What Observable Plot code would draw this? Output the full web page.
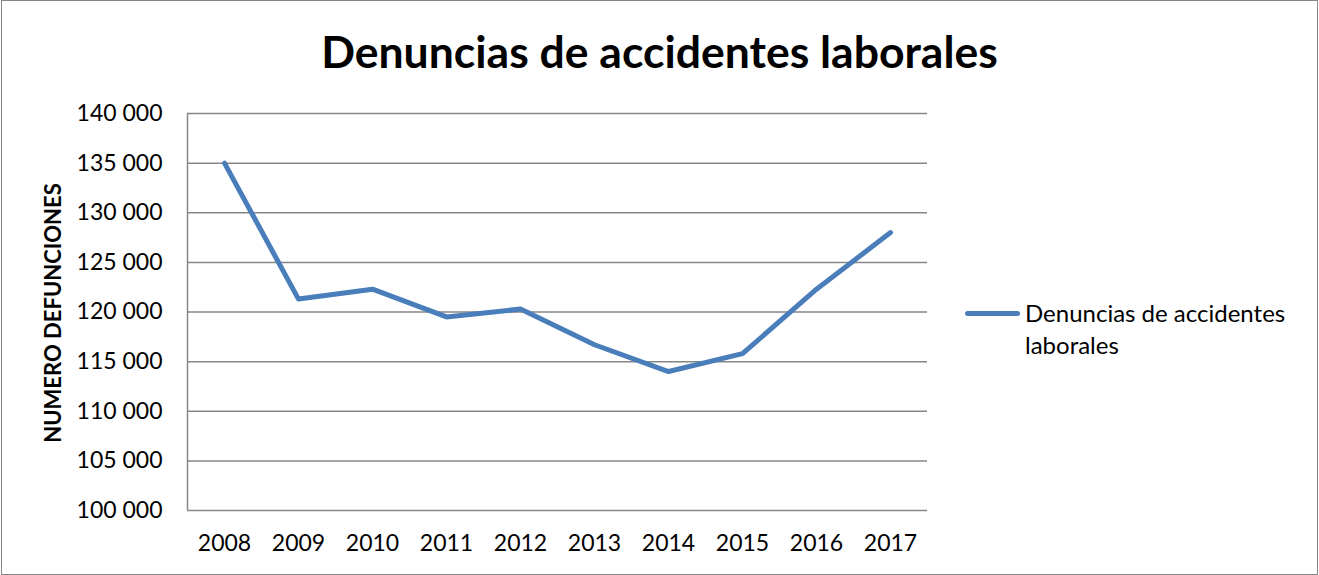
<!DOCTYPE html>
<html>
<head>
<meta charset="utf-8">
<script src="https://cdn.jsdelivr.net/npm/d3@7"></script>
<script src="https://cdn.jsdelivr.net/npm/@observablehq/plot@0.6"></script>
<style>
  body { margin: 0; background: #fff; }
  #wrap { position: relative; width: 1319px; height: 575px; overflow: hidden; font-family: Lato, "Open Sans", sans-serif; color: #000; }
  #wrap svg { position: absolute; left: 0; top: 0; }
  #border { position: absolute; left: 1px; top: 0px; width: 1317px; height: 575px; border: 1.5px solid #868686; box-sizing: border-box; }
  #title { position: absolute; left: 0; width: 1319px; top: 28px; text-align: center; font-weight: 700; font-size: 44.5px; line-height: 45px; white-space: nowrap; }
  #ylabel { position: absolute; left: 53px; top: 313px; transform: translate(-50%, -50%) rotate(-90deg); font-weight: 700; font-size: 22px; line-height: 22px; white-space: nowrap; }
  #swatch { position: absolute; left: 965px; top: 311px; width: 55px; height: 5px; background: #4a7ebb; border-radius: 2.5px; }
  #legtext { position: absolute; left: 1025px; top: 297px; font-size: 24px; line-height: 31.5px; white-space: nowrap; }
</style>
</head>
<body>
<div id="wrap">
  <div id="border"></div>
  <div id="title">Denuncias de accidentes laborales</div>
  <div id="ylabel">NUMERO DEFUNCIONES</div>
  <div id="swatch"></div>
  <div id="legtext">Denuncias de accidentes<br>laborales</div>
</div>
<script>
const years = [2008, 2009, 2010, 2011, 2012, 2013, 2014, 2015, 2016, 2017];
const values = [135000, 121300, 122300, 119500, 120300, 116700, 114000, 115800, 122300, 128000];
const yTicks = [100000, 105000, 110000, 115000, 120000, 125000, 130000, 135000, 140000];
const seriesName = "Denuncias de accidentes laborales";

const data = years.map((year, i) => ({year, value: values[i], series: seriesName}));
const fmt = d => d3.format(",")(d).replace(/,/g, " ");

const chart = Plot.plot({
  width: 1319,
  height: 575,
  marginLeft: 187,
  marginRight: 392,
  marginTop: 113,
  marginBottom: 65,
  style: {fontFamily: "Lato, 'Open Sans', sans-serif", fontSize: "23px", color: "#000", background: "transparent", overflow: "visible"},
  x: {domain: [2007.5, 2017.5], ticks: years, tickFormat: "d", tickSize: 0, tickPadding: 24, label: null},
  y: {domain: [100000, 140000], ticks: yTicks, tickFormat: fmt, tickSize: 0, tickPadding: 25, label: null},
  marks: [
    Plot.ruleY(yTicks, {stroke: "#868686", strokeWidth: 1.5, strokeOpacity: 1}),
    Plot.ruleX([2007.5], {stroke: "#868686", strokeWidth: 1.5, strokeOpacity: 1}),
    Plot.line(data, {x: "year", y: "value", stroke: "#4a7ebb", strokeWidth: 5, strokeLinejoin: "round"})
  ]
});
document.getElementById("wrap").insertBefore(chart, document.getElementById("border"));
</script>
</body>
</html>
